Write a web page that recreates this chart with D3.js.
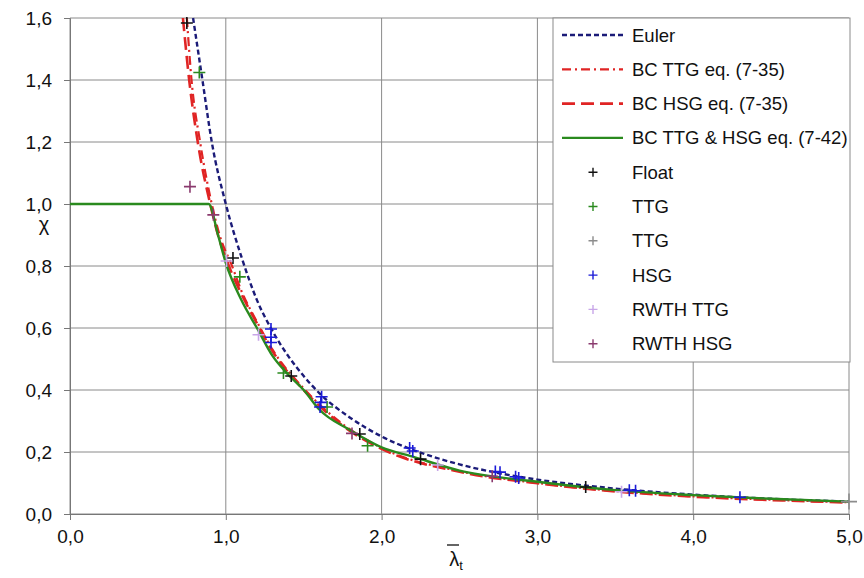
<!DOCTYPE html>
<html lang="en">
<head>
    <meta charset="UTF-8">
    <title>Buckling curves chi vs lambda</title>
    <script src="https://d3js.org/d3.v7.min.js"></script>
    <style>
        body { margin: 0; background: #fff; }
        text { font-family: "Liberation Sans", Arial, sans-serif; fill: #111; }
        .grid line { stroke: #8a8a8a; stroke-width: 1; }
    </style>
</head>
<body>
<svg width="864" height="578"></svg>
<script>
    // Axis ticks
    const xTicks = [0, 1, 2, 3, 4, 5];
    const yTicks = [0, 0.2, 0.4, 0.6, 0.8, 1.0, 1.2, 1.4, 1.6];

    // Curves: [lambda, chi]
    const euler = [[0.79,1.6],[0.85,1.4],[0.91,1.2],[1.0,1.0],[1.1,0.83],[1.2,0.69],[1.3,0.59],[1.4,0.51],
        [1.5,0.445],[1.6,0.39],[1.8,0.31],[2.0,0.25],[2.25,0.198],[2.5,0.16],[2.75,0.132],[3.0,0.111],
        [3.5,0.082],[4.0,0.0625],[4.5,0.049],[5.0,0.04]];
    const bcTtg = [[0.75,1.6],[0.78,1.4],[0.835,1.2],[0.91,1.0],[0.96,0.9],[1.04,0.8],[1.1,0.72],[1.2,0.62],
        [1.3,0.53],[1.5,0.405],[1.75,0.29],[2.0,0.213],[2.5,0.138],[3.0,0.1],[3.5,0.074],[4.0,0.057],
        [4.5,0.046],[5.0,0.038]];
    const bcHsg = [[0.725,1.6],[0.765,1.4],[0.82,1.2],[0.9,1.0],[0.95,0.9],[1.02,0.8],[1.1,0.71],[1.2,0.615],
        [1.3,0.525],[1.5,0.4],[1.75,0.285],[2.0,0.21],[2.5,0.136],[3.0,0.099],[3.5,0.073],[4.0,0.056],
        [4.5,0.045],[5.0,0.037]];
    const bcBoth = [[0,1.0],[0.89,1.0],[0.95,0.9],[1.0,0.81],[1.1,0.69],[1.2,0.6],[1.3,0.51],[1.4,0.45],
        [1.5,0.4],[1.6,0.337],[1.8,0.27],[2.0,0.215],[2.2,0.185],[2.5,0.14],[3.0,0.104],[3.5,0.077],
        [4.0,0.061],[4.5,0.049],[5.0,0.04]];

    // Test results: [lambda, chi]
    const float = [[0.75,1.584],[1.046,0.826],[1.42,0.445],[1.86,0.258],[2.25,0.177],[3.31,0.087]];
    const ttg = [[0.83,1.424],[1.09,0.765],[1.37,0.455],[1.65,0.345],[1.91,0.22]];
    const ttgGrey = [[5.0,0.04]];
    const hsg = [[1.29,0.597],[1.29,0.57],[1.29,0.553],[1.615,0.378],[1.61,0.36],[1.605,0.345],
        [2.18,0.213],[2.2,0.203],[2.73,0.137],[2.76,0.135],[2.86,0.12],[2.88,0.116],
        [3.59,0.077],[3.63,0.075],[4.3,0.054]];
    const rwthTtg = [[1.005,0.816],[1.21,0.578],[2.36,0.158],[3.54,0.072]];
    const rwthHsg = [[0.77,1.056],[0.92,0.965],[1.81,0.26],[2.71,0.122]];

    const lineSeries = [
        { name: "Euler", data: euler, color: "#1b1b78", dash: "5,3", width: 2.4 },
        { name: "BC TTG eq. (7-35)", data: bcTtg, color: "#e02424", dash: "9,4,2,4", width: 2.2 },
        { name: "BC HSG eq. (7-35)", data: bcHsg, color: "#e02424", dash: "13,6", width: 2.6 },
        { name: "BC TTG & HSG eq. (7-42)", data: bcBoth, color: "#2a8a1e", dash: null, width: 2.4 }
    ];
    const pointSeries = [
        { name: "Float", data: float, color: "#111111", size: 12 },
        { name: "TTG", data: ttg, color: "#2a8a1e", size: 12 },
        { name: "TTG", data: ttgGrey, color: "#8c8c8c", size: 16 },
        { name: "HSG", data: hsg, color: "#1a1ad8", size: 12 },
        { name: "RWTH TTG", data: rwthTtg, color: "#c8a6e8", size: 12 },
        { name: "RWTH HSG", data: rwthHsg, color: "#8a3a6e", size: 12 }
    ];

    const svg = d3.select("svg"),
        margin = { top: 18, left: 70 },
        width = 779,
        height = 496;

    const x = d3.scaleLinear().domain([0, 5]).range([0, width]);
    const y = d3.scaleLinear().domain([0, 1.6]).range([height, 0]);
    const fmt = v => d3.format(".1f")(v).replace(".", ",");

    const g = svg.append("g").attr("transform", `translate(${margin.left},${margin.top})`);

    // grid
    const grid = g.append("g").attr("class", "grid");
    grid.selectAll(".gx").data(xTicks).enter().append("line")
        .attr("x1", d => x(d)).attr("x2", d => x(d)).attr("y1", 0).attr("y2", height);
    grid.selectAll(".gy").data(yTicks).enter().append("line")
        .attr("x1", 0).attr("x2", width).attr("y1", d => y(d)).attr("y2", d => y(d));

    // axes
    const xAxis = g.append("g").attr("transform", `translate(0,${height})`)
        .call(d3.axisBottom(x).tickValues(xTicks).tickFormat(fmt).tickSize(6).tickPadding(10));
    const yAxis = g.append("g")
        .call(d3.axisLeft(y).tickValues(yTicks).tickFormat(fmt).tickSize(6).tickPadding(12));
    [xAxis, yAxis].forEach(a => {
        a.select(".domain").attr("stroke", "#777");
        a.selectAll(".tick line").attr("stroke", "#777");
        a.selectAll(".tick text").attr("font-size", 19).attr("fill", "#111")
            .attr("font-family", "Liberation Sans, Arial, sans-serif");
    });

    // lines
    const line = d3.line().x(d => x(d[0])).y(d => y(d[1])).curve(d3.curveMonotoneX);
    const plot = g.append("g");
    plot.selectAll(".curve").data(lineSeries).enter().append("path")
        .attr("fill", "none")
        .attr("stroke", d => d.color)
        .attr("stroke-width", d => d.width)
        .attr("stroke-dasharray", d => d.dash)
        .attr("d", d => line(d.data));

    // plus markers
    const plus = s => `M${-s/2},0H${s/2}M0,${-s/2}V${s/2}`;
    pointSeries.forEach(s => {
        plot.selectAll(null).data(s.data).enter().append("path")
            .attr("transform", d => `translate(${x(d[0])},${y(d[1])})`)
            .attr("d", plus(s.size))
            .attr("stroke", s.color)
            .attr("stroke-width", 1.6)
            .attr("fill", "none");
    });

    // axis titles
    svg.append("text").attr("x", 44).attr("y", 231).attr("text-anchor", "middle")
        .attr("font-size", 20).text("χ");
    const xt = svg.append("text").attr("x", 456).attr("y", 566).attr("text-anchor", "middle")
        .attr("font-size", 20);
    xt.append("tspan").text("λ");
    xt.append("tspan").attr("font-size", 13).attr("dy", 4).text("t");
    svg.append("line").attr("x1", 447).attr("x2", 459).attr("y1", 545).attr("y2", 545)
        .attr("stroke", "#111").attr("stroke-width", 1.3);

    // legend
    const legend = svg.append("g").attr("transform", "translate(553,18)");
    legend.append("rect").attr("width", 297).attr("height", 344)
        .attr("fill", "#fff").attr("stroke", "#8a8a8a").attr("stroke-width", 1);
    const rowH = 34.3;
    const items = lineSeries.map(d => ({ ...d, kind: "line" }))
        .concat(pointSeries.map(d => ({ ...d, kind: "point" })));
    const rows = legend.selectAll(".row").data(items).enter().append("g")
        .attr("transform", (d, i) => `translate(0,${17 + i * rowH})`);
    rows.filter(d => d.kind === "line").append("line")
        .attr("x1", 9).attr("x2", 70).attr("y1", 0).attr("y2", 0)
        .attr("stroke", d => d.color).attr("stroke-width", d => d.width)
        .attr("stroke-dasharray", d => d.dash);
    rows.filter(d => d.kind === "point").append("path")
        .attr("transform", "translate(40,0)")
        .attr("d", plus(9))
        .attr("stroke", d => d.color).attr("stroke-width", 1.4);
    rows.append("text").attr("x", 79).attr("y", 6.5).attr("font-size", 18.5).text(d => d.name);
</script>
</body>
</html>
